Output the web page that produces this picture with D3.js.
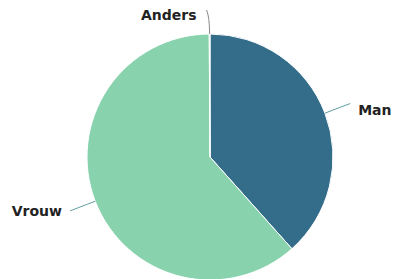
<!DOCTYPE html>
<html>
<head>
<meta charset="utf-8">
<script src="https://cdnjs.cloudflare.com/ajax/libs/d3/7.8.5/d3.min.js"></script>
<style>
  body { margin: 0; background: #fff; }
  text { font-family: "DejaVu Sans", sans-serif; font-weight: bold; font-size: 14px; fill: #222; }
</style>
</head>
<body>
<div id="chart"></div>
<script>
// data (share in %)
var categories = ["Man", "Vrouw", "Anders"];
var values = [38.4, 61.5, 0.1];
var colors = ["#346d89", "#88d3ad", "#88d3ad"];

var w = 394, h = 279;
var cx = 210, cy = 157, radius = 123;

var svg = d3.select("#chart").append("svg")
    .attr("width", w)
    .attr("height", h)
    .append("g")
    .attr("transform", `translate(${cx},${cy})`);

var data = categories.map((c, i) => ({ name: c, value: values[i], color: colors[i] }));

var pie = d3.pie().sort(null).value(d => d.value);
var arc = d3.arc().innerRadius(0).outerRadius(radius);
var arcs = pie(data);

svg.selectAll("path.slice")
    .data(arcs)
    .enter()
    .append("path")
    .attr("class", "slice")
    .attr("d", arc)
    .attr("fill", d => d.data.color)
    .attr("stroke", "#fff")
    .attr("stroke-width", 1);

// point at a given radius along the slice middle
function at(a, r) {
    return [Math.sin(a) * r, -Math.cos(a) * r];
}

arcs.forEach(function(d) {
    var mid = (d.startAngle + d.endAngle) / 2;
    var p0 = at(mid, radius);
    var p1 = at(mid, 140);
    var p2 = at(mid, 150);
    var top = Math.abs(Math.sin(mid)) < 0.1;
    if (top) p2 = [p1[0] - 3, p1[1] - 7];

    svg.append("path")
        .attr("d", `M${p0[0]},${p0[1]}Q${p1[0]},${p1[1]} ${p2[0]},${p2[1]}`)
        .attr("fill", "none")
        .attr("stroke", top ? "#888" : "#5f9ea0")
        .attr("stroke-width", 1);

    var right = Math.sin(mid) > 0;
    var t = svg.append("text").text(d.data.name);
    if (top) {
        t.attr("x", p2[0] - 10).attr("y", p2[1] + 10).attr("text-anchor", "end");
    } else if (right) {
        t.attr("x", p2[0] + 8).attr("y", p2[1] + 11).attr("text-anchor", "start");
    } else {
        t.attr("x", p2[0] - 8).attr("y", p2[1] + 5).attr("text-anchor", "end");
    }
});
</script>
</body>
</html>
